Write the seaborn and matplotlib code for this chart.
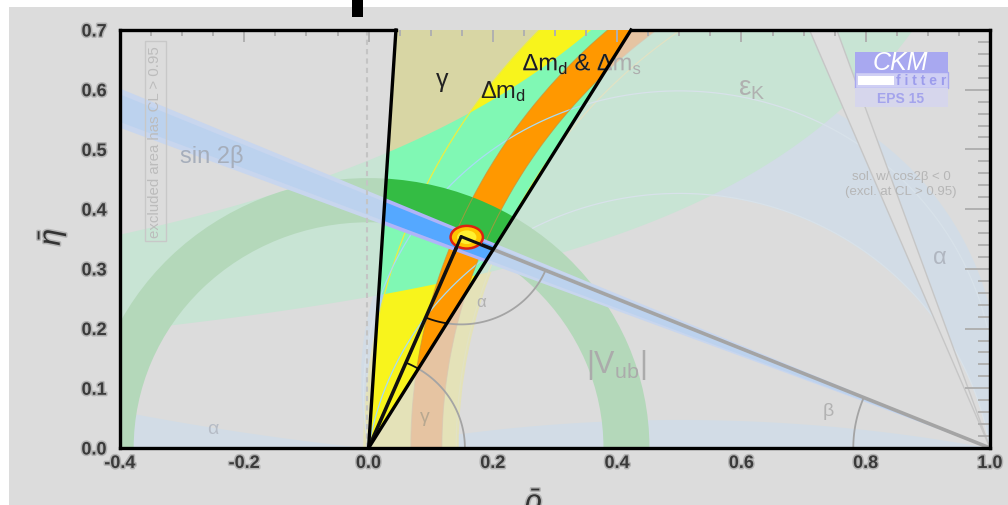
import numpy as np
import pandas as pd
import matplotlib
matplotlib.use("Agg")
import matplotlib.pyplot as plt
import matplotlib.patches as mpatches
import matplotlib.patheffects as pe
import matplotlib.transforms as mtransforms
from matplotlib.textpath import TextPath
from matplotlib.font_manager import FontProperties
import seaborn as sns

# ---- constraints in the (rho-bar, eta-bar) plane ----
gamma_angle_deg = [58.9, 86.4]          # gamma wedge from the origin (deg)
dmd_radius = [0.855, 1.008]             # Delta m_d ring around (1, 0)
dms_radius = [0.882, 0.932]             # Delta m_d & Delta m_s ring around (1, 0)
vub_radius = [0.378, 0.452]             # |V_ub| ring around (0, 0)
sin2b_tan_outer = [0.383, 0.430]        # sin 2beta band, tan(beta)
sin2b_tan_inner = [0.390, 0.423]
cos2b_tan = [2.41, 2.84]                # cos 2beta < 0 solution, tan(pi/2 - beta)
epsk_upper = [1.148, 0.553]             # eps_K edges: eta = K / (a - rho) -> [a, K]
epsk_lower = [1.372, 0.347]
alpha_centre_eta = [-0.08, 0.115]       # alpha lune: circles through (0,0) and (1,0)
alpha_band_centre_eta = [4.55, -2.59]   # alpha bands along rho axis (left, right)
alpha_contour_eta = [0.09, -0.08]
dmd_contour_radius = [0.859, 1.008]
apex = [0.149, 0.354]
fit_centre = [0.158, 0.353]
fit_size = [0.052, 0.038]
arc_radius = {"gamma": 0.155, "alpha": 0.147, "beta": 0.22}

x_ticks = [-0.4, -0.2, 0.0, 0.2, 0.4, 0.6, 0.8, 1.0]
x_tick_labels = ["-0.4", "-0.2", "0.0", "0.2", "0.4", "0.6", "0.8", "1.0"]
y_ticks = [0.0, 0.1, 0.2, 0.3, 0.4, 0.5, 0.6, 0.7]
y_tick_labels = ["0.0", "0.1", "0.2", "0.3", "0.4", "0.5", "0.6", "0.7"]

vivid = dict(gamma="#d8d6a4", alpha="#a8d0f0", dmd="#f8f41c", epsk="#80f8b4",
             dms="#ff9800", vub="#34bc44", s2b_out="#b0b4f8", s2b_in="#55a8ff",
             cos2b="#dcdcdc", cos2b_edge="#c4c4c4", line="#111111",
             dmd_line="#eeee40", alpha_line="#a8dcf4", dms_line="#c8903a")
faded = dict(gamma=None, alpha="#d2dce6", dmd="#e4e2b8", epsk="#c8e4d4",
             dms="#e6c4a2", vub="#b4d8ba", s2b_out="#c8d6ee", s2b_in="#bcd2ee",
             cos2b="#dedede", cos2b_edge="#c6c6c6", line="#a4a4a4",
             dmd_line="#e2e2c4", alpha_line="#d8e2ea", dms_line="#d8c8b4")

sns.set_style("white")
plt.rcParams["font.family"] = ["Liberation Sans", "DejaVu Sans"]
plt.rcParams["mathtext.fontset"] = "custom"
plt.rcParams["mathtext.rm"] = "Liberation Sans"
plt.rcParams["mathtext.it"] = "Liberation Sans:italic"
plt.rcParams["mathtext.bf"] = "Liberation Sans:bold"

W, H = 1008, 506
fig = plt.figure(figsize=(W / 100, H / 100), dpi=100, facecolor="white")
fig.patches.append(mpatches.Rectangle((9 / W, 0), 1 - 9 / W, 498 / H, transform=fig.transFigure,
                                      fc="#dcdcdc", ec="none", zorder=-10))
fig.patches.append(mpatches.Rectangle((352 / W, 488 / H), 11 / W, 18 / H, transform=fig.transFigure,
                                      fc="black", ec="none", zorder=5))

ax = fig.add_axes([120 / W, 57 / H, 870 / W, 418 / H])
ax.set_xlim(-0.4, 1.0)
ax.set_ylim(0.0, 0.7)
ax.set_facecolor("#dcdcdc")


def arc_points(cx, cy, r, t0, t1, n=120):
    t = np.radians(np.linspace(t0, t1, n))
    return cx + r * np.cos(t), cy + r * np.sin(t)


def draw_layer(ax, pal, z0, clip=None):
    arts = []
    z = [z0]

    def nz():
        z[0] += 0.01
        return z[0]

    rho = np.linspace(-0.6, 1.4, 2401)

    if pal["gamma"]:
        g = np.radians(gamma_angle_deg)
        pts = [(0, 0)] + [(1.2 * np.cos(a), 1.2 * np.sin(a)) for a in g]
        arts.append(ax.add_patch(mpatches.Polygon(pts, closed=True, fc=pal["gamma"], ec="none", zorder=nz())))

    # alpha: lune between two circles through (0,0) and (1,0)
    cA, cB = alpha_centre_eta
    rA, rB = np.hypot(0.5, cA), np.hypot(0.5, cB)
    sA = np.sqrt(np.clip(rA ** 2 - (rho - 0.5) ** 2, 0, None))
    sB = np.sqrt(np.clip(rB ** 2 - (rho - 0.5) ** 2, 0, None))
    upper = cB + sB
    lower = np.maximum(0, cB - sB)
    lower = np.where(np.abs(rho - 0.5) <= rA, np.maximum(lower, cA + sA), lower)
    ok = (np.abs(rho - 0.5) <= rB) & (upper > lower)
    arts.append(ax.fill_between(rho, lower, upper, where=ok, color=pal["alpha"], lw=0, zorder=nz()))
    cL, cR = alpha_band_centre_eta
    rL, rR = np.hypot(0.5, cL), np.hypot(0.5, cR)
    etaL = cL - np.sqrt(np.clip(rL ** 2 - (rho - 0.5) ** 2, 0, None))
    etaR = cR + np.sqrt(np.clip(rR ** 2 - (rho - 0.5) ** 2, 0, None))
    arts.append(ax.fill_between(rho, 0, etaL, where=rho <= 0, color=pal["alpha"], lw=0, zorder=nz()))
    arts.append(ax.fill_between(rho, 0, etaR, where=(rho >= 0) & (rho <= 1), color=pal["alpha"], lw=0, zorder=nz()))

    # Delta m_d
    arts.append(ax.add_patch(mpatches.Annulus((1, 0), dmd_radius[1], dmd_radius[1] - dmd_radius[0],
                                              fc=pal["dmd"], ec="none", zorder=nz())))
    # eps_K hyperbolic band
    a1, k1 = epsk_upper
    a2, k2 = epsk_lower
    up = np.minimum(np.where(rho < a1 - 1e-3, k1 / np.clip(a1 - rho, 1e-3, None), 5), 1.0)
    lo = np.minimum(np.where(rho < a2 - 1e-3, k2 / np.clip(a2 - rho, 1e-3, None), 5), 1.0)
    arts.append(ax.fill_between(rho, lo, up, where=lo < up, color=pal["epsk"], lw=0, zorder=nz()))
    # Delta m_d & Delta m_s
    arts.append(ax.add_patch(mpatches.Annulus((1, 0), dms_radius[1], dms_radius[1] - dms_radius[0],
                                              fc=pal["dms"], ec="none", zorder=nz())))
    # thin contours
    for r in dmd_contour_radius:
        x, y = arc_points(1, 0, r, 90, 180, 300)
        arts += ax.plot(x, y, color=pal["dmd_line"], lw=0.9, zorder=nz())
    for c in alpha_contour_eta:
        x, y = arc_points(0.5, c, np.hypot(0.5, c), -10, 190, 400)
        arts += ax.plot(x, y, color=pal["alpha_line"], lw=0.9, zorder=nz())
    # |V_ub|
    arts.append(ax.add_patch(mpatches.Annulus((0, 0), vub_radius[1], vub_radius[1] - vub_radius[0],
                                              fc=pal["vub"], ec="none", zorder=nz())))
    for r in dms_radius:
        x, y = arc_points(1, 0, r, 90, 180, 300)
        arts += ax.plot(x, y, color=pal["dms_line"], lw=0.7, alpha=0.7, zorder=nz())
    # sin 2beta
    L = 1.6
    for tans, key in ((sin2b_tan_outer, "s2b_out"), (sin2b_tan_inner, "s2b_in")):
        pts = [(1, 0), (1 - L, L * tans[0]), (1 - L, L * tans[1])]
        arts.append(ax.add_patch(mpatches.Polygon(pts, closed=True, fc=pal[key], ec="none", zorder=nz())))
    # cos 2beta < 0 solution
    pts = [(1, 0), (1 - 1 / cos2b_tan[0], 1.0), (1 - 1 / cos2b_tan[1], 1.0)]
    arts.append(ax.add_patch(mpatches.Polygon(pts, closed=True, fc=pal["cos2b"], ec=pal["cos2b_edge"],
                                              lw=1.0, zorder=nz())))
    # unitarity triangle
    tri = pd.DataFrame({"rho": [0.0, apex[0], 1.0], "eta": [0.0, apex[1], 0.0]})
    n0 = len(ax.lines)
    sns.lineplot(data=tri, x="rho", y="eta", sort=False, estimator=None, color=pal["line"],
                 lw=2.6, ax=ax, zorder=nz())
    arts += ax.lines[n0:]
    # angle arcs
    ang_apex = np.degrees(np.arctan2(apex[1], apex[0]))
    ang_to_one = np.degrees(np.arctan2(-apex[1], 1 - apex[0]))
    ang_to_zero = np.degrees(np.arctan2(-apex[1], -apex[0]))
    for (cx, cy, r, t0, t1) in ((0, 0, arc_radius["gamma"], 0, ang_apex),
                                (apex[0], apex[1], arc_radius["alpha"], ang_to_zero, ang_to_one),
                                (1, 0, arc_radius["beta"], 180 + ang_to_one, 180)):
        x, y = arc_points(cx, cy, r, t0, t1)
        arts += ax.plot(x, y, color=pal["line"], lw=1.3, zorder=nz())

    if clip is not None:
        for a in arts:
            a.set_clip_path(clip)
    return arts


g0, g1 = np.radians(gamma_angle_deg)
xR, xL = 0.7 / np.tan(g0), 0.7 / np.tan(g1)
wedge = mpatches.Polygon([(0, 0), (0.75 / np.tan(g1), 0.75), (0.75 / np.tan(g0), 0.75)],
                         closed=True, transform=ax.transData, fc="none", ec="none")

draw_layer(ax, faded, 1.0)
ax.plot([-0.003, -0.003], [0.0, 0.7], ls=(0, (2.5, 2)), color="#c4c4c4", lw=1.5, zorder=1.9)
draw_layer(ax, vivid, 10.0, clip=wedge)
ax.set_xlabel("")
ax.set_ylabel("")

# fit result at the apex
ax.add_patch(mpatches.Ellipse(fit_centre, fit_size[0], fit_size[1], fc="#ffc400", ec="#dd2211", lw=1.8, zorder=12))
ax.add_patch(mpatches.Ellipse(fit_centre, fit_size[0] * 0.6, fit_size[1] * 0.6, fc="#fff030", ec="none", zorder=12.1))
ax.plot([apex[0], apex[0] + 0.03], [apex[1], apex[1] - 0.03 * apex[1] / (1 - apex[0])], color="#111111", lw=2.2, zorder=12.2)
ax.plot([apex[0], apex[0] - 0.012], [apex[1], apex[1] - 0.012 * apex[1] / apex[0]], color="#111111", lw=2.2, zorder=12.2)

# frame: outline of the regions outside the gamma wedge
for side in ("left", "bottom", "right"):
    ax.spines[side].set_linewidth(2.4)
    ax.spines[side].set_color("black")
    ax.spines[side].set_zorder(50)
ax.spines["top"].set_visible(False)
for xs, ys in (([-0.4, xL], [0.7, 0.7]), ([xR, 1.0], [0.7, 0.7]), ([0, xL], [0, 0.7]), ([0, xR], [0, 0.7])):
    ax.plot(xs, ys, color="black", lw=2.4, clip_on=False, zorder=49, solid_capstyle="projecting")

# labels on the constraints
def label(x, y, s, size, color, **kw):
    ax.text(x, y, s, fontsize=size, color=color, ha="center", va="center", zorder=30, **kw)

label(-0.253, 0.489, "sin 2β", 17, "#a6aebb")
label(0.617, 0.603, r"ε$_\mathrm{K}$", 20, "#b0b0b0")
label(0.398, 0.141, r"|V$_\mathrm{ub}$|", 22, "#ababab")
label(-0.251, 0.032, "α", 14, "#b6bcc6")
label(0.92, 0.32, "α", 17, "#b0b6c0")
label(0.74, 0.062, "β", 14, "#b2b2b2")
label(0.091, 0.052, "γ", 14, "#b8a890")
label(0.181, 0.246, "α", 12, "#b0b0b0")
label(0.118, 0.618, "γ", 18, "#222222")
label(0.217, 0.598, r"Δm$_\mathrm{d}$", 17, "#222222")
label(0.857, 0.455, "sol. w/ cos2β < 0", 9.5, "#b6b6b6")
label(0.857, 0.431, "(excl. at CL > 0.95)", 9.5, "#b6b6b6")
ax.text(-0.343, 0.514, "excluded area has CL > 0.95", rotation=90, fontsize=10.8, color="#bcbcbc",
        ha="center", va="center", zorder=30,
        bbox=dict(boxstyle="square,pad=0.25", fc="none", ec="#c8c8c8", lw=1.0))

# label straddling the wedge edge: dark inside, faded outside
tp = TextPath((0, 0), r"Δm$_\mathrm{d}$ & Δm$_\mathrm{s}$", size=17,
              prop=FontProperties(family="Liberation Sans"))
bb = tp.get_extents()
for col, clip in (("#adadad", None), ("#1c1c1c", wedge)):
    tr = (mtransforms.Affine2D().translate(-(bb.x0 + bb.width / 2), -(bb.y0 + bb.height / 2))
          .scale(fig.dpi / 72.0) + mtransforms.ScaledTranslation(0.343, 0.643, ax.transData))
    pp = mpatches.PathPatch(tp, fc=col, ec="none", transform=tr, zorder=31)
    ax.add_patch(pp)
    if clip is not None:
        pp.set_clip_path(clip)

# CKMfitter logo
lav = "#a8a8f0"
logo = [((0.845, 0.900), 0.107, 0.047, lav, "none"),
        ((0.845, 0.861), 0.107, 0.039, "#cfcff4", lav),
        ((0.848, 0.868), 0.042, 0.022, "#ffffff", "none"),
        ((0.845, 0.816), 0.107, 0.045, "#d6d6ec", "none")]
for xy, w, h, fc, ec in logo:
    ax.add_patch(mpatches.Rectangle(xy, w, h, transform=ax.transAxes, fc=fc, ec=ec, lw=1, zorder=30))
ax.text(0.897, 0.924, "CKM", transform=ax.transAxes, color="white", fontsize=18, style="italic",
        ha="center", va="center", zorder=31)
ax.text(0.921, 0.880, "f i t t e r", transform=ax.transAxes, color="#9c9cec", fontsize=10, fontweight="bold",
        ha="center", va="center", zorder=31)
ax.text(0.897, 0.838, "EPS 15", transform=ax.transAxes, color="#a4a4ec", fontsize=10, fontweight="bold",
        ha="center", va="center", zorder=31)

# ticks
ax.set_xticks(x_ticks)
ax.set_xticklabels(x_tick_labels)
ax.set_yticks(y_ticks)
ax.set_yticklabels(y_tick_labels)
ax.set_xticks(np.arange(-0.4, 1.0001, 0.05), minor=True)
ax.set_yticks(np.arange(0.0, 0.7001, 0.02), minor=True)
ax.tick_params(which="both", direction="in", top=True, right=True, color="#b0b0b0", width=1.4)
ax.tick_params(axis="x", which="major", length=8.5, pad=5)
ax.tick_params(axis="x", which="minor", length=4.3)
ax.tick_params(axis="y", which="major", length=18, pad=9.5)
ax.tick_params(axis="y", which="minor", length=8.5)
ax.xaxis.set_zorder(40)
ax.yaxis.set_zorder(40)
halo = [pe.withStroke(linewidth=2.2, foreground="#b4b4b4")]
for lab in ax.get_xticklabels() + ax.get_yticklabels():
    lab.set_fontweight("bold")
    lab.set_fontsize(13)
    lab.set_color("#3a3a3a")
    lab.set_path_effects(halo)

fig.text(534 / W, (H - 487) / H, r"$\bar{\rho}$", ha="center", va="top", fontsize=22,
         color="#333333", path_effects=halo)
fig.text(52 / W, (H - 238) / H, r"$\bar{\eta}$", ha="center", va="center", rotation=90,
         fontsize=22, color="#333333", path_effects=halo)

fig.savefig("out.png", dpi=100, facecolor="white")
